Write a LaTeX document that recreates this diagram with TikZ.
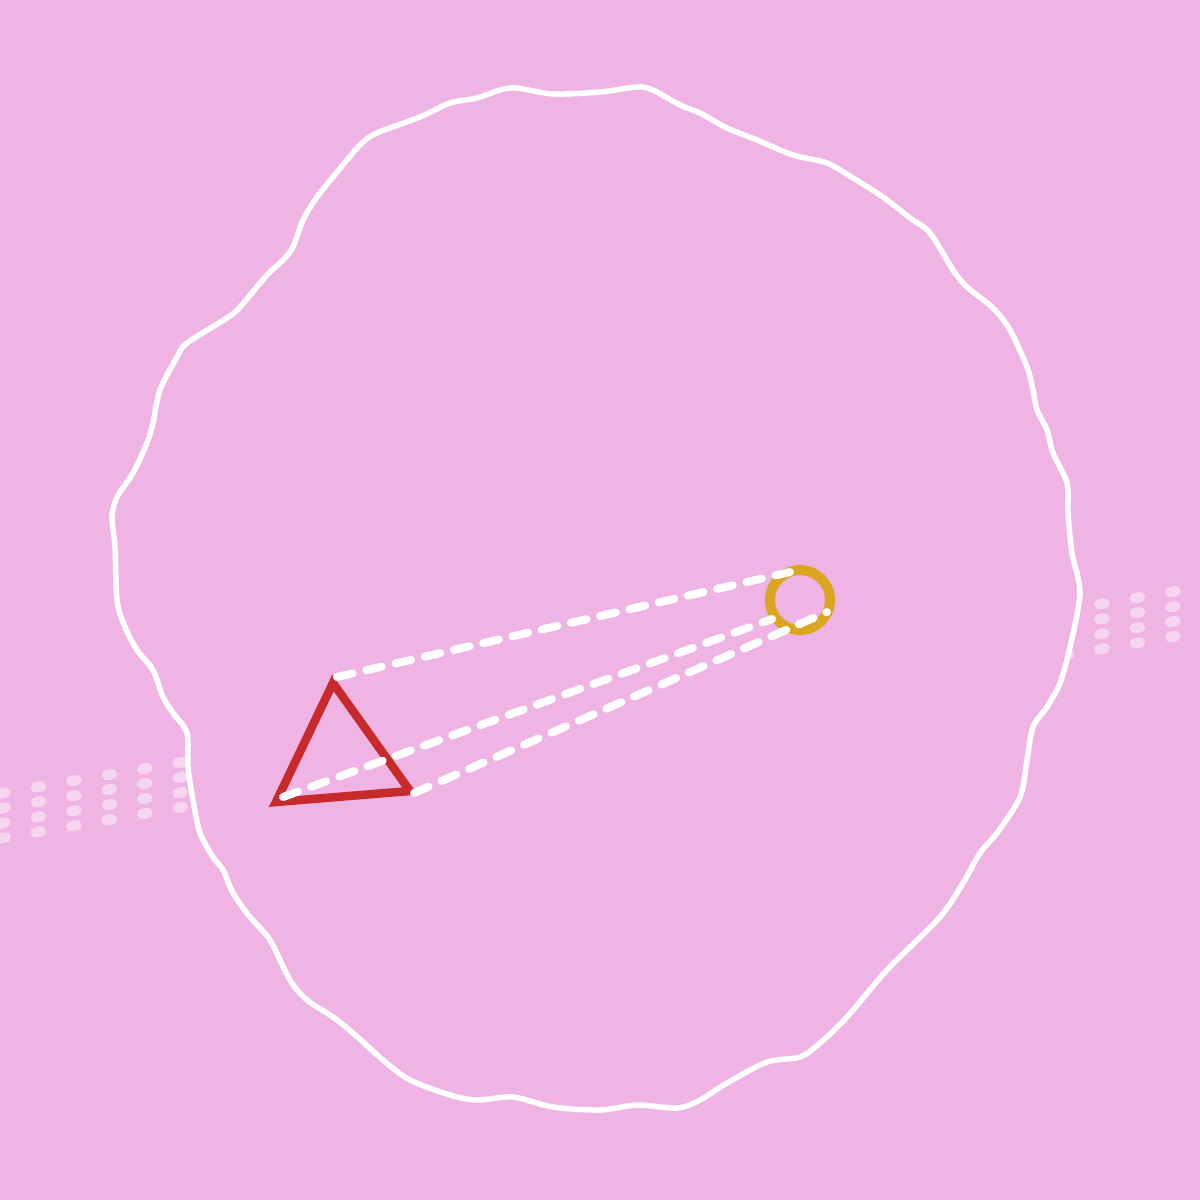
\documentclass[tikz,border=0pt]{standalone}
\definecolor{bgpink}{RGB}{239,179,228}
\definecolor{ringgold}{RGB}{218,165,32}
\definecolor{trired}{RGB}{198,42,42}
\tikzset{
  dotmark/.style={white, opacity=0.45, line width=0.105cm, line cap=round},
  rimline/.style={draw=white, fill=bgpink, line width=0.055cm},
  guideline/.style={white, line width=0.08cm, line cap=round, dash pattern=on 0.16cm off 0.14cm}
}
\begin{document}
\begin{tikzpicture}[x=0.01cm, y=-0.01cm]
    \useasboundingbox (0,0) rectangle (1200,1200);
    \fill[bgpink] (0,0) rectangle (1200,1200);

    % 点の帯
    \begin{scope}
      \clip (0,0) rectangle (1200,1200);
      \foreach \k in {0,...,33} {
        \foreach \j in {0,...,3} {
          \draw[dotmark] (3+35.45*\k-2.5, 793-6.1*\k+15*\j+0.4) -- ++(5,-0.9);
        }
      }
    \end{scope}

    % 波打つ円
    \filldraw[rimline] plot[smooth cycle] coordinates {
      (600,92) (637,87) (653,90) (680,105) (700,113) (727,128) (757,140)
      (793,155) (827,163) (853,178) (883,197) (910,218) (930,233) (953,270)
      (967,287) (993,308) (1010,330) (1027,367) (1033,390) (1037,410)
      (1047,430) (1053,453) (1067,483) (1068,513) (1072,553) (1080,593)
      (1070,647) (1060,683) (1047,707) (1033,727) (1027,760) (1020,797)
      (997,833) (980,853) (963,883) (940,917) (887,970) (847,1017)
      (820,1043) (800,1057) (767,1062) (727,1083) (700,1100) (677,1108)
      (637,1105) (600,1110) (553,1107) (513,1097) (477,1100) (450,1095)
      (410,1080) (383,1060) (353,1033) (333,1017) (307,1000) (290,980)
      (270,940) (250,917) (233,893) (223,870) (213,857) (200,833) (193,800)
      (188,767) (187,733) (173,713) (163,697) (153,670) (137,650) (125,627)
      (117,600) (115,547) (112,517) (117,497) (133,473) (147,443) (153,423)
      (160,390) (177,357) (187,343) (227,318) (240,307) (267,275) (283,260)
      (293,247) (303,220) (317,197) (333,177) (360,145) (377,133) (420,117)
      (450,103) (477,98) (500,90) (517,88) (553,94)};

    % 金色の輪
    \coordinate (O) at (800,600);
    \def\r{0.3cm}
    \draw[ringgold, line width=0.1cm] (O) circle (\r);

    % 三角形
    \coordinate (A) at (333,683);
    \coordinate (B) at (276,802);
    \coordinate (C) at (410,791);
    \draw[trired, line width=0.085cm] (A) -- (B) -- (C) -- cycle;

    % 輪への破線
    \coordinate (As) at (337,677);
    \coordinate (Bs) at (283,797);
    \coordinate (Cs) at (414,793);
    \coordinate (P1) at (790,572);
    \coordinate (P2) at (772,619);
    \coordinate (P3) at (827,612);
    \draw[guideline] (As) -- (P1);
    \draw[guideline] (Bs) -- (P2);
    \draw[guideline] (Cs) -- (P3);
  \end{tikzpicture}
\end{document}
